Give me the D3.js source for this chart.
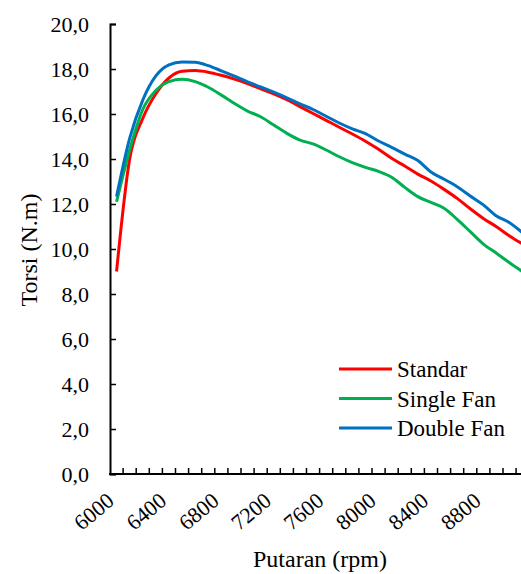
<!DOCTYPE html>
<html>
<head>
<meta charset="utf-8">
<script src="https://cdn.jsdelivr.net/npm/d3@7"></script>
</head>
<body style="margin:0; background:#fff; overflow:hidden">
<div id="chart"></div>
<script>
// data, one value per 100 rpm
let rpm = [6000, 6100, 6200, 6300, 6400, 6500, 6600, 6700, 6800, 6900, 7000, 7100, 7200, 7300, 7400, 7500,
           7600, 7700, 7800, 7900, 8000, 8100, 8200, 8300, 8400, 8500, 8600, 8700, 8800, 8900, 9000, 9100];
let standar = [9.0, 14.0, 15.8, 16.9, 17.6, 17.9, 17.93, 17.86, 17.72, 17.55, 17.35, 17.12, 16.9, 16.64, 16.33, 16.02,
               15.72, 15.41, 15.11, 14.79, 14.43, 14.03, 13.69, 13.33, 13.02, 12.65, 12.25, 11.79, 11.36, 10.99, 10.58, 10.22];
let singleFan = [12.1, 14.4, 16.2, 17.04, 17.44, 17.54, 17.44, 17.19, 16.84, 16.47, 16.13, 15.88, 15.51, 15.14, 14.84, 14.67,
                 14.4, 14.1, 13.84, 13.63, 13.45, 13.19, 12.74, 12.33, 12.07, 11.81, 11.32, 10.77, 10.22, 9.81, 9.39, 8.99];
let doubleFan = [12.33, 14.92, 16.62, 17.69, 18.18, 18.31, 18.3, 18.15, 17.92, 17.68, 17.43, 17.2, 16.97, 16.72, 16.45, 16.2,
                 15.9, 15.6, 15.34, 15.13, 14.8, 14.52, 14.22, 13.93, 13.42, 13.1, 12.77, 12.36, 11.96, 11.47, 11.17, 10.72];
let seriesNames = ["Standar", "Single Fan", "Double Fan"];
let yTicks = [0, 2, 4, 6, 8, 10, 12, 14, 16, 18, 20];
let xLabels = [6000, 6400, 6800, 7200, 7600, 8000, 8400, 8800];

let colors = ["#FF0000", "#00B050", "#0070C0"];
let series = [standar, singleFan, doubleFan];
let font = "Liberation Serif, Times New Roman, serif";

let margin = {top: 24, left: 110};
let width = 13.1 * rpm.length;
let height = 450;

let svg = d3.select("#chart").append("svg")
    .attr("width", 521)
    .attr("height", 574);

let g = svg.append("g")
    .attr("transform", "translate(" + margin.left + "," + margin.top + ")");

let x = d3.scaleBand()
    .domain(rpm)
    .range([0, width])
    .padding(0);

let y = d3.scaleLinear()
    .domain([0, 20])
    .range([height, 0]);

let comma = d3.formatLocale({decimal: ",", thousands: ".", grouping: [3], currency: ["", ""]}).format(".1f");

// y axis
let yAxis = g.append("g")
    .call(d3.axisLeft(y).tickValues(yTicks).tickSize(-6).tickPadding(21).tickFormat(comma));
yAxis.select(".domain").attr("stroke-width", 2);
yAxis.selectAll(".tick line").attr("stroke-width", 1.5);
yAxis.selectAll("text").attr("font-size", 22);

// x axis: tick marks at category boundaries, labels every 4th category
let xAxis = g.append("g")
    .attr("transform", "translate(0," + height + ")")
    .call(d3.axisBottom(x).tickValues(xLabels).tickSize(0).tickPadding(0).tickFormat(d => d));
xAxis.select(".domain").remove();
xAxis.selectAll("text")
    .attr("font-size", 22)
    .attr("text-anchor", "end")
    .attr("dy", "0")
    .attr("transform", "translate(-1,29) rotate(-40)");

xAxis.selectAll(".bound")
    .data(rpm.slice(1).concat(["end"]))
    .enter().append("line")
    .attr("class", "bound")
    .attr("x1", d => d === "end" ? width : x(d))
    .attr("x2", d => d === "end" ? width : x(d))
    .attr("y1", 0)
    .attr("y2", -6)
    .attr("stroke", "#000")
    .attr("stroke-width", 1.5);

xAxis.append("line")
    .attr("x1", -1).attr("x2", width)
    .attr("y1", 0).attr("y2", 0)
    .attr("stroke", "#000")
    .attr("stroke-width", 2);

// lines
let line = d3.line()
    .x((d, i) => x(rpm[i]) + x.bandwidth() / 2)
    .y(d => y(d))
    .curve(d3.curveMonotoneX);

g.selectAll(".series")
    .data(series)
    .enter().append("path")
    .attr("class", "series")
    .attr("d", d => line(d))
    .attr("fill", "none")
    .attr("stroke", (d, i) => colors[i])
    .attr("stroke-width", 3)
    .attr("stroke-linejoin", "round");

// axis titles
svg.append("text")
    .attr("transform", "translate(37,250) rotate(-90)")
    .attr("text-anchor", "middle")
    .attr("font-size", 24)
    .text("Torsi (N.m)");

svg.append("text")
    .attr("x", 320)
    .attr("y", 567)
    .attr("text-anchor", "middle")
    .attr("font-size", 24)
    .text("Putaran (rpm)");

// legend
let legend = svg.append("g").attr("transform", "translate(339,369)");
let items = legend.selectAll("g")
    .data(seriesNames)
    .enter().append("g")
    .attr("transform", (d, i) => "translate(0," + (i * 29.5) + ")");
items.append("line")
    .attr("x1", 0).attr("x2", 53)
    .attr("stroke", (d, i) => colors[i])
    .attr("stroke-width", 3);
items.append("text")
    .attr("x", 58)
    .attr("dy", "0.35em")
    .attr("font-size", 23)
    .text(d => d);

// every text gets the serif face directly
svg.selectAll("text")
    .attr("font-family", font)
    .style("font-family", font)
    .attr("fill", "#000");
</script>
</body>
</html>
